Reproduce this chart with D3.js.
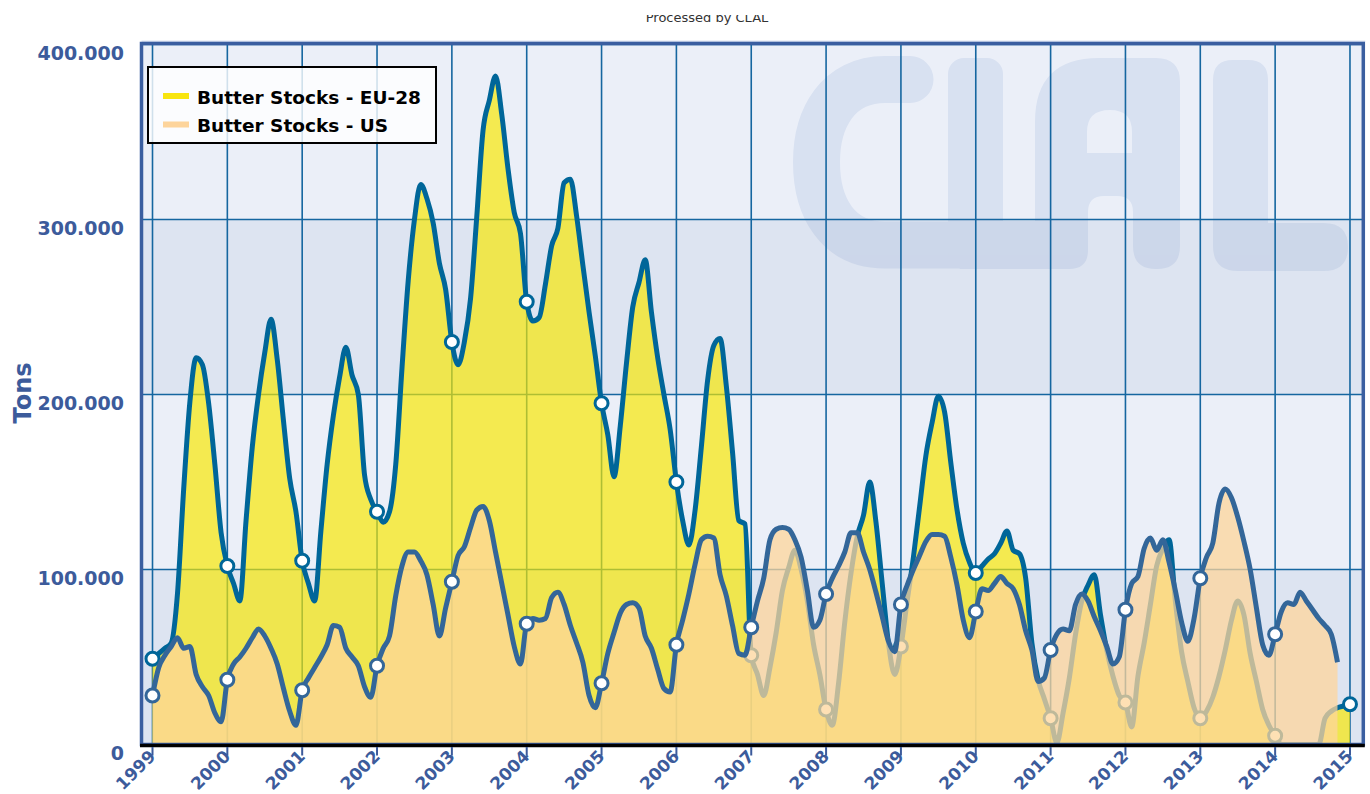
<!DOCTYPE html>
<html>
<head>
<meta charset="utf-8">
<script src="https://cdn.jsdelivr.net/npm/d3@7"></script>
<style>
  html, body { margin: 0; padding: 0; background: #ffffff; }
  svg { display: block; }
  text { font-family: "DejaVu Sans", Verdana, sans-serif; }
</style>
</head>
<body>
<svg id="chart" width="1370" height="794"></svg>
<script>
// ---------------- DATA (thousand tons, monthly from Jan 1999) ----------------
const startYear = 1999;
const seriesNames = ["Butter Stocks - EU-28", "Butter Stocks - US"];

const euStocks = [
  49, 52, 55, 58, 86, 146, 196, 221, 217, 195, 160, 121,      // 1999
  102, 92, 82, 128, 170, 200, 224, 243, 220, 185, 152, 133,   // 2000
  105, 92, 82, 122, 160, 188, 210, 227, 211, 200, 154, 140,   // 2001
  133, 127, 133, 160, 215, 265, 300, 320, 312, 298, 275, 260, // 2002
  230, 217, 230, 255, 302, 351, 368, 382, 360, 329, 304, 292, // 2003
  253, 242, 244, 263, 285, 295, 321, 323, 302, 274, 247, 222, // 2004
  195, 177, 153, 182, 218, 250, 264, 277, 247, 221, 200, 180, // 2005
  150, 128, 114, 134, 170, 208, 228, 232, 205, 167, 128, 126, // 2006
  51, 40, 28, 44, 64, 88, 101, 111, 100, 82, 57, 40,          // 2007
  20, 11, 35, 70, 98, 119, 131, 150, 127, 92, 58, 40,         // 2008
  56, 82, 107, 136, 165, 184, 199, 190, 161, 134, 115, 104,   // 2009
  98, 102, 106, 109, 115, 122, 111, 109, 95, 58, 37, 26,      // 2010
  15, 1, 18, 38, 63, 82, 91, 97, 74, 54, 39, 28,              // 2011
  24, 10, 39, 58, 80, 102, 112, 117, 82, 53, 36, 21,          // 2012
  15, 19, 27, 39, 54, 71, 82, 74, 52, 36, 20, 11,             // 2013
  5, 0, 0, 0, 0, 0, 0, 0, 15, 19, 21, 22,                     // 2014
  23                                                          // 2015
];

const usStocks = [
  28, 44, 51, 56, 61, 55, 56, 40, 33, 28, 18, 13,             // 1999
  37, 46, 50, 55, 61, 66, 62, 55, 46, 32, 19, 11,             // 2000
  31, 38, 44, 50, 57, 68, 67, 55, 50, 45, 33, 27,             // 2001
  45, 55, 62, 85, 102, 110, 110, 105, 97, 80, 62, 78,         // 2002
  93, 108, 113, 124, 134, 136, 128, 110, 92, 74, 56, 46,      // 2003
  69, 72, 71, 72, 84, 87, 80, 68, 58, 47, 28, 21,             // 2004
  35, 52, 64, 75, 80, 81, 78, 62, 55, 43, 32, 30,             // 2005
  57, 71, 86, 103, 117, 119, 118, 97, 85, 68, 52, 51,         // 2006
  67, 82, 95, 117, 123, 124, 123, 117, 107, 88, 67, 71,       // 2007
  86, 95, 102, 110, 121, 121, 110, 100, 87, 73, 59, 53,       // 2008
  80, 91, 100, 108, 116, 120, 120, 119, 107, 91, 71, 61,      // 2009
  76, 89, 88, 92, 96, 92, 89, 80, 65, 54, 36, 38,             // 2010
  54, 63, 66, 65, 80, 86, 82, 73, 65, 56, 46, 50,             // 2011
  77, 92, 96, 112, 118, 111, 117, 104, 88, 70, 59, 72,        // 2012
  95, 107, 115, 138, 146, 141, 130, 116, 100, 78, 57, 51,     // 2013
  63, 76, 81, 80, 87, 82, 77, 72, 68, 63, 47                  // 2014
];

const yearTicks = [1999, 2000, 2001, 2002, 2003, 2004, 2005, 2006, 2007,
                   2008, 2009, 2010, 2011, 2012, 2013, 2014, 2015];
const yTicks = [0, 100, 200, 300, 400];
const yAxisTitle = "Tons";
const creditText = "Processed by CLAL";

// ---------------- SETUP ----------------
const svg = d3.select("#chart");
const plot = { left: 141.5, right: 1363.3, top: 44.5, bottom: 744.5 };
const x = d3.scaleLinear().domain([1998.853, 2015.178]).range([plot.left, plot.right]);
const y = d3.scaleLinear().domain([0, 400]).range([plot.bottom, plot.top]);
const axisColor = "#3c5b9b";
const gridColor = "#1566a0";
const nf = d3.formatLocale({ decimal: ",", thousands: ".", grouping: [3], currency: ["", ""] }).format(",.0f");

const euPts = euStocks.map((v, i) => ({ t: startYear + i / 12, v, jan: i % 12 === 0 }));
const usPts = usStocks.map((v, i) => ({ t: startYear + i / 12, v, jan: i % 12 === 0 }));

// credit text (partially cut at top)
svg.append("text").attr("x", 707).attr("y", 22).attr("text-anchor", "middle")
  .attr("font-size", 13).attr("fill", "#333").text(creditText);
svg.append("rect").attr("x", 0).attr("y", 0).attr("width", 1370).attr("height", 15).attr("fill", "#fff");

const defs = svg.append("defs");
defs.append("clipPath").attr("id", "plotClip").append("rect")
  .attr("x", plot.left).attr("y", plot.top)
  .attr("width", plot.right - plot.left).attr("height", plot.bottom - plot.top);

const pg = svg.append("g").attr("clip-path", "url(#plotClip)");

// alternate bands
const bandPairs = d3.pairs(yTicks);
pg.selectAll("rect.band").data(bandPairs).join("rect")
  .attr("class", "band")
  .attr("x", plot.left).attr("width", plot.right - plot.left)
  .attr("y", d => y(d[1])).attr("height", d => y(d[0]) - y(d[1]))
  .attr("fill", (d, i) => i % 2 === 0 ? "#dde4f1" : "#ebeff8");

// watermark "CLAL"
const wm = pg.append("g").attr("opacity", 0.13);
wm.append("path")
  .attr("d", "M 910,79.5 H 885 C 838,79.5 816.5,118 816.5,162 C 816.5,208 838,245 885,245 H 960")
  .attr("fill", "none").attr("stroke", "#5f80bd").attr("stroke-width", 47)
  .attr("stroke-linecap", "round").attr("stroke-linejoin", "round");
wm.append("rect").attr("x", 948).attr("y", 58).attr("width", 55).attr("height", 211).attr("rx", 16).attr("fill", "#5f80bd");
wm.append("rect").attr("x", 960).attr("y", 221).attr("width", 110).attr("height", 48).attr("fill", "#5f80bd");
wm.append("path").attr("fill-rule", "evenodd").attr("fill", "#5f80bd")
  .attr("d", "M 1035,269 L 1035,122 Q 1035,58 1099,58 L 1156,58 Q 1180,58 1180,82 L 1180,246 Q 1180,269 1157,269 L 1156,269 Q 1133,269 1133,246 L 1133,212 Q 1133,196 1117,196 L 1104,196 Q 1088,196 1088,212 L 1088,250 Q 1088,269 1069,269 Z " +
             "M 1087,153 L 1132,153 L 1132,132 Q 1132,110 1110,110 Q 1087,110 1087,132 Z");
wm.append("path").attr("fill", "#5f80bd")
  .attr("d", "M 1233,60 L 1248,60 Q 1268,60 1268,80 L 1268,223 L 1324,223 Q 1348,223 1348,247 Q 1348,271 1324,271 L 1238,271 Q 1213,271 1213,246 L 1213,80 Q 1213,60 1233,60 Z");

// grid lines
pg.selectAll("line.hgrid").data(yTicks).join("line")
  .attr("class", "hgrid")
  .attr("x1", plot.left).attr("x2", plot.right)
  .attr("y1", d => y(d)).attr("y2", d => y(d))
  .attr("stroke", gridColor).attr("stroke-width", 1.6);
pg.selectAll("line.vgrid").data(yearTicks).join("line")
  .attr("class", "vgrid")
  .attr("x1", d => x(d)).attr("x2", d => x(d))
  .attr("y1", plot.top).attr("y2", plot.bottom)
  .attr("stroke", gridColor).attr("stroke-width", 1.6);

// series
const area = d3.area().x(d => x(d.t)).y0(y(0)).y1(d => y(d.v)).curve(d3.curveMonotoneX);
const line = d3.line().x(d => x(d.t)).y(d => y(d.v)).curve(d3.curveMonotoneX);

// EU-28
pg.append("path").datum(euPts).attr("d", area).attr("fill", "rgba(248,231,0,0.68)");
pg.append("path").datum(euPts).attr("d", line).attr("fill", "none")
  .attr("stroke", "#006699").attr("stroke-width", 5).attr("stroke-linejoin", "round");
pg.selectAll("circle.eu").data(euPts.filter(d => d.jan)).join("circle")
  .attr("class", "eu").attr("cx", d => x(d.t)).attr("cy", d => y(d.v)).attr("r", 6.5)
  .attr("fill", "#fff").attr("stroke", "#006699").attr("stroke-width", 3);

// US
pg.append("path").datum(usPts).attr("d", area).attr("fill", "rgba(253,213,155,0.75)");
pg.append("path").datum(usPts).attr("d", line).attr("fill", "none")
  .attr("stroke", "#336699").attr("stroke-width", 5).attr("stroke-linejoin", "round");
svg.selectAll("circle.us").data(usPts.filter(d => d.jan)).join("circle")
  .attr("class", "us").attr("cx", d => x(d.t)).attr("cy", d => y(d.v)).attr("r", 6.5)
  .attr("fill", "#fff").attr("stroke", "#336699").attr("stroke-width", 3);

// plot frame
svg.append("line").attr("x1", plot.left).attr("x2", plot.right + 2).attr("y1", 41.2).attr("y2", 41.2)
  .attr("stroke", "#c8d3e9").attr("stroke-width", 1);
svg.append("rect").attr("x", plot.left).attr("y", 43.5)
  .attr("width", plot.right - plot.left).attr("height", plot.bottom - 43.5)
  .attr("fill", "none").attr("stroke", "#3a5ea0").attr("stroke-width", 3.5);
svg.append("line").attr("x1", plot.left - 1.5).attr("x2", plot.right + 1.5)
  .attr("y1", plot.bottom + 1).attr("y2", plot.bottom + 1)
  .attr("stroke", "#000").attr("stroke-width", 3.5);

// x ticks and labels
svg.selectAll("line.xtick").data(yearTicks).join("line")
  .attr("class", "xtick").attr("x1", d => x(d)).attr("x2", d => x(d))
  .attr("y1", plot.bottom + 2.5).attr("y2", plot.bottom + 11)
  .attr("stroke", axisColor).attr("stroke-width", 2);
svg.selectAll("text.xlab").data(yearTicks).join("text")
  .attr("class", "xlab")
  .attr("transform", d => `translate(${x(d) + 4},${plot.bottom + 13}) rotate(-45)`)
  .attr("text-anchor", "end").attr("font-size", 17).attr("font-weight", "bold")
  .attr("fill", axisColor).text(d => d);

// y labels
svg.selectAll("text.ylab").data(yTicks).join("text")
  .attr("class", "ylab").attr("x", 124).attr("y", d => y(d) + 15)
  .attr("text-anchor", "end").attr("font-size", 19).attr("font-weight", "bold")
  .attr("fill", axisColor).text(d => nf(d * 1000));

svg.append("text").attr("transform", "translate(31,393) rotate(-90)")
  .attr("text-anchor", "middle").attr("font-size", 24).attr("font-weight", "bold")
  .attr("fill", axisColor).text(yAxisTitle);

// legend
const lg = svg.append("g");
lg.append("rect").attr("x", 148).attr("y", 67).attr("width", 288).attr("height", 76)
  .attr("fill", "rgba(255,255,255,0.8)").attr("stroke", "#000").attr("stroke-width", 2);
const legendColors = ["#f8e50f", "#fdd49b"];
seriesNames.forEach((name, i) => {
  const ly = 96 + i * 28.5;
  lg.append("line").attr("x1", 163).attr("x2", 189).attr("y1", ly).attr("y2", ly)
    .attr("stroke", legendColors[i]).attr("stroke-width", 6);
  lg.append("text").attr("x", 197).attr("y", ly + 7.5).attr("font-size", 18.5)
    .attr("font-weight", "bold").attr("fill", "#000").text(name);
});
</script>
</body>
</html>
